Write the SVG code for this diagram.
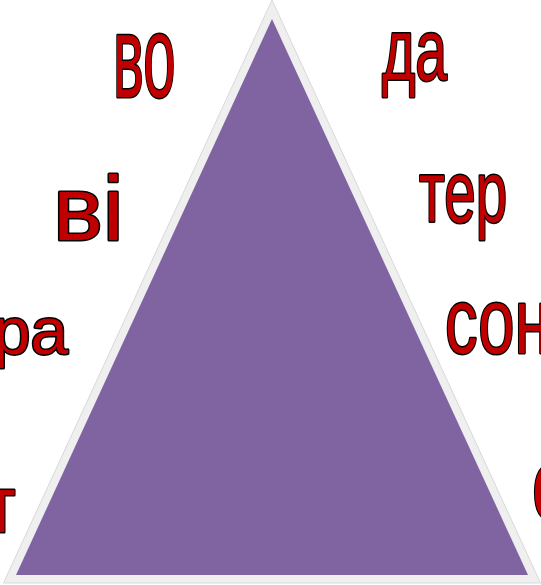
<svg xmlns="http://www.w3.org/2000/svg" width="541" height="585" viewBox="0 0 541 585">
<style>
.t{font-family:"Liberation Sans",Arial,sans-serif;fill:#c00000;stroke:#000;stroke-width:3;paint-order:stroke;stroke-linejoin:round;}
</style>
<rect width="541" height="585" fill="#fff"/>
<g id="triangle">
<polygon points="272,0 3.5,583 540.5,583" fill="#efefef" stroke="#d8d8d8" stroke-width="1"/>
<polygon points="272,19 16,575 528,575" fill="#8064a2"/>
</g>
<g id="vo"><text class="t" font-size="116" transform="translate(113,97) scale(0.5,1)">во</text></g>
<g id="da"><text class="t" font-size="88" transform="translate(382,80) scale(0.65,1)">да</text></g>
<g id="vi"><text class="t" font-size="91" transform="translate(53,240) scale(1.03,1)">ві</text></g>
<g id="ter"><text class="t" font-size="87" transform="translate(419,222) scale(0.65,1)">тер</text></g>
<g id="ra"><text class="t" font-size="66" transform="translate(-7,354) scale(1.02,1)">ра</text></g>
<g id="son"><text class="t" font-size="93" transform="translate(445,353) scale(0.7,1)">сон</text></g>
<g id="t"><text class="t" font-size="80" transform="translate(-12,532) scale(0.75,1)">т</text></g>
<g id="s"><text class="t" font-size="100" transform="translate(532,519) scale(0.7,1)">с</text></g>
</svg>
